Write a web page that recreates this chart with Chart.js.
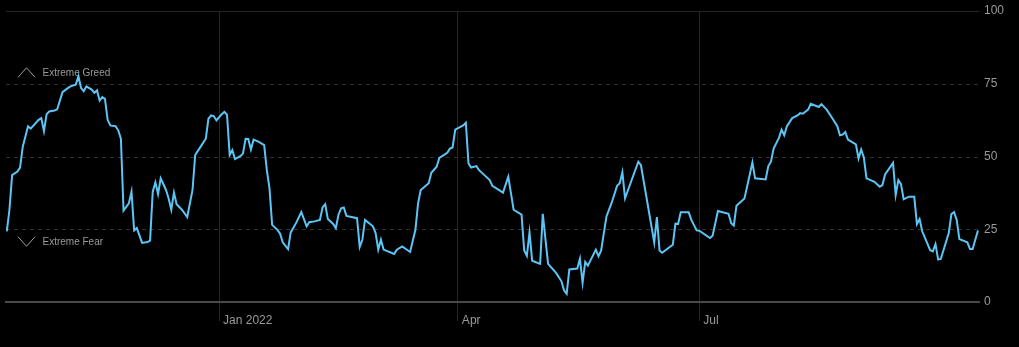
<!DOCTYPE html>
<html>
<head>
<meta charset="utf-8">
<title>Fear &amp; Greed Index</title>
<script src="https://cdn.jsdelivr.net/npm/chart.js@4"></script>
<style>
  html, body { margin: 0; padding: 0; background: #000; }
  #wrap { width: 1019px; height: 347px; }
</style>
</head>
<body>
<div id="wrap"><canvas id="chart"></canvas></div>
<script>
// days counted from 1 Jan 2022 (negative = late 2021)
const days = [
  -80, -79, -78, -76, -75, -74, -72, -71, -68, -67, -66, -65, -64, -62, -61, -59, -57, -56, -54, -53,
  -52, -51, -50, -48, -47, -46, -45, -44, -43, -42, -41, -39, -38, -37, -36, -34, -33, -32, -31, -29,
  -27, -26, -25, -24, -23, -22, -20, -19, -18, -17, -16, -14, -12, -10, -9, -7, -5, -4, -3, -2,
  -1, 1, 2, 3, 4, 5, 6, 8, 9, 10, 11, 12, 13, 15, 17, 18, 19, 20, 22, 23,
  24, 26, 27, 29, 31, 33, 34, 36, 38, 39, 40, 41, 43, 44, 45, 46, 47, 48, 52, 53,
  54, 55, 58, 59, 60, 61, 62, 66, 67, 69, 72, 74, 75, 76, 79, 80, 82, 83, 86, 87,
  88, 89, 92, 93, 94, 95, 97, 98, 100, 102, 103, 106, 107, 109, 111, 114, 115, 116, 117, 118,
  121, 122, 124, 127, 129, 130, 131, 132, 135, 136, 137, 138, 139, 142, 143, 144, 146, 148, 150, 151,
  152, 153, 158, 159, 164, 165, 166, 167, 171, 172, 173, 174, 177, 178, 180, 181, 185, 186, 188, 192,
  193, 194, 195, 198, 199, 201, 202, 206, 207, 208, 209, 211, 212, 213, 214, 216, 218, 219, 220, 222,
  223, 226, 227, 229, 231, 233, 234, 235, 236, 237, 240, 241, 242, 243, 244, 247, 249, 250, 251, 254,
  255, 256, 257, 258, 260, 262, 263, 264, 265, 268, 269, 270, 271, 272, 275, 276, 277, 278, 279, 282,
  283, 284, 286
];
const index = [
  24.3, 31.7, 43.6, 44.8, 46.2, 53.3, 60.4, 59.6, 62.6, 63.2, 58.7, 64.5, 65.5, 65.8, 66.2, 72.1, 73.5, 74.1, 74.7, 77.6,
  73.5, 72.4, 74.1, 73.0, 71.9, 72.7, 69.2, 70.4, 69.8, 62.6, 60.7, 60.4, 59.0, 56.1, 31.4, 33.9, 37.9, 24.6, 25.4, 20.3,
  20.6, 21.1, 37.9, 41.1, 37.1, 42.5, 38.5, 35.6, 31.7, 37.6, 33.6, 31.7, 29.2, 38.5, 50.5, 53.3, 56.1, 63.0, 64.1, 63.9,
  62.4, 64.5, 65.3, 64.4, 50.5, 52.2, 49.1, 50.1, 51.0, 56.1, 56.0, 52.4, 55.8, 55.0, 53.9, 45.3, 39.1, 26.5, 24.8, 23.5,
  20.5, 18.2, 23.9, 27.1, 30.9, 26.0, 27.4, 27.7, 28.2, 32.5, 33.6, 28.5, 26.8, 25.4, 30.0, 32.2, 32.5, 29.6, 28.8, 18.9,
  21.4, 28.2, 26.0, 23.7, 18.0, 21.4, 18.0, 16.5, 18.0, 19.1, 17.2, 24.8, 33.9, 38.5, 40.8, 44.4, 46.5, 49.5, 51.3, 52.7,
  53.1, 59.2, 60.7, 61.6, 47.6, 46.2, 46.7, 45.3, 43.6, 41.9, 39.9, 38.2, 37.6, 43.1, 31.7, 30.0, 17.7, 15.9, 23.9, 14.2,
  13.1, 30.3, 13.1, 10.0, 7.2, 4.0, 2.8, 11.2, 11.5, 14.9, 6.6, 13.8, 12.5, 18.0, 15.7, 17.7, 29.4, 34.2, 39.9, 40.8,
  44.6, 35.6, 48.2, 47.0, 20.5, 29.2, 17.7, 16.9, 19.7, 26.9, 26.8, 30.8, 30.8, 28.2, 24.6, 24.5, 22.0, 22.8, 31.3, 30.3,
  27.1, 26.3, 33.1, 35.6, 39.6, 47.9, 42.5, 42.1, 46.7, 48.2, 52.7, 56.4, 59.2, 57.3, 60.4, 63.2, 64.1, 64.9, 64.7, 66.1,
  68.1, 67.0, 68.0, 66.1, 63.3, 60.4, 57.3, 57.5, 58.4, 55.8, 54.2, 49.3, 52.4, 49.7, 42.5, 41.3, 39.6, 40.2, 43.8, 47.8,
  36.8, 41.9, 40.5, 35.3, 36.2, 36.2, 26.8, 28.5, 24.3, 17.8, 17.4, 19.9, 14.6, 14.8, 23.7, 30.2, 30.9, 28.2, 21.6, 20.5,
  18.2, 18.2, 24.6
];

const tickDays = [0, 90, 181];
const tickLabels = ['Jan 2022', 'Apr', 'Jul'];
const yTicks = [0, 25, 50, 75, 100];

const FONT = '"Liberation Sans", Arial, sans-serif';

// horizontal grid: solid at the top, dashed in between
const hLines = {
  id: 'hLines',
  beforeDatasetsDraw(chart) {
    const { ctx, chartArea } = chart;
    const y = chart.scales.y;
    ctx.save();
    ctx.lineWidth = 1;
    yTicks.forEach(v => {
      if (v === 0) return;
      const py = Math.round(y.getPixelForValue(v)) + 0.5;
      ctx.strokeStyle = v === 100 ? '#262626' : '#303030';
      ctx.setLineDash(v === 100 ? [] : [4, 4]);
      ctx.beginPath();
      ctx.moveTo(chartArea.left, py);
      ctx.lineTo(chartArea.right, py);
      ctx.stroke();
    });
    ctx.restore();
  }
};

// "Extreme Greed" / "Extreme Fear" markers on the left
const zoneLabels = {
  id: 'zoneLabels',
  beforeDatasetsDraw(chart) {
    const { ctx, chartArea } = chart;
    const y = chart.scales.y;
    const x0 = chartArea.left + 12;
    const greedY = y.getPixelForValue(75) - 11;
    const fearY = y.getPixelForValue(25) + 13;
    ctx.save();
    ctx.strokeStyle = '#a0a0a0';
    ctx.lineWidth = 1;
    ctx.beginPath();
    ctx.moveTo(x0, greedY + 4.5);
    ctx.lineTo(x0 + 8.5, greedY - 5);
    ctx.lineTo(x0 + 17, greedY + 4.5);
    ctx.stroke();
    ctx.beginPath();
    ctx.moveTo(x0, fearY - 5.5);
    ctx.lineTo(x0 + 8.5, fearY + 4);
    ctx.lineTo(x0 + 17, fearY - 5.5);
    ctx.stroke();
    ctx.fillStyle = '#9a9a9a';
    ctx.font = '10px ' + FONT;
    ctx.textBaseline = 'middle';
    ctx.fillText('Extreme Greed', x0 + 24.5, greedY);
    ctx.fillText('Extreme Fear', x0 + 24.5, fearY);
    ctx.restore();
  }
};

new Chart(document.getElementById('chart'), {
  type: 'line',
  data: {
    datasets: [{
      data: days.map((d, i) => ({ x: d, y: index[i] })),
      borderColor: '#5bc5f5',
      borderWidth: 2,
      pointRadius: 0,
      tension: 0,
      fill: false
    }]
  },
  options: {
    responsive: true,
    maintainAspectRatio: false,
    animation: false,
    layout: { padding: { left: 6, top: 4, right: 0, bottom: 0 } },
    plugins: { legend: { display: false }, tooltip: { enabled: false } },
    scales: {
      x: {
        type: 'linear',
        min: -80.3,
        max: 286.4,
        afterBuildTicks: s => { s.ticks = tickDays.map(v => ({ value: v })); },
        afterFit: s => { s.height = 45; },
        grid: { color: '#262626', lineWidth: 1, drawTicks: true, tickLength: 19, tickColor: '#262626' },
        border: { display: true, color: '#4a4a4a', width: 2 },
        ticks: {
          autoSkip: false,
          maxRotation: 0,
          align: 'start',
          labelOffset: 4,
          padding: -8,
          color: '#9a9a9a',
          font: { family: FONT, size: 12 },
          callback: v => tickLabels[tickDays.indexOf(v)]
        }
      },
      y: {
        position: 'right',
        min: 0,
        max: 100,
        afterBuildTicks: s => { s.ticks = yTicks.map(v => ({ value: v })); },
        afterFit: s => { s.width = 40; },
        grid: { display: false, drawTicks: false },
        border: { display: false },
        ticks: {
          padding: 5,
          color: '#9a9a9a',
          font: { family: FONT, size: 12, lineHeight: 1 }
        }
      }
    }
  },
  plugins: [hLines, zoneLabels]
});
</script>
</body>
</html>
